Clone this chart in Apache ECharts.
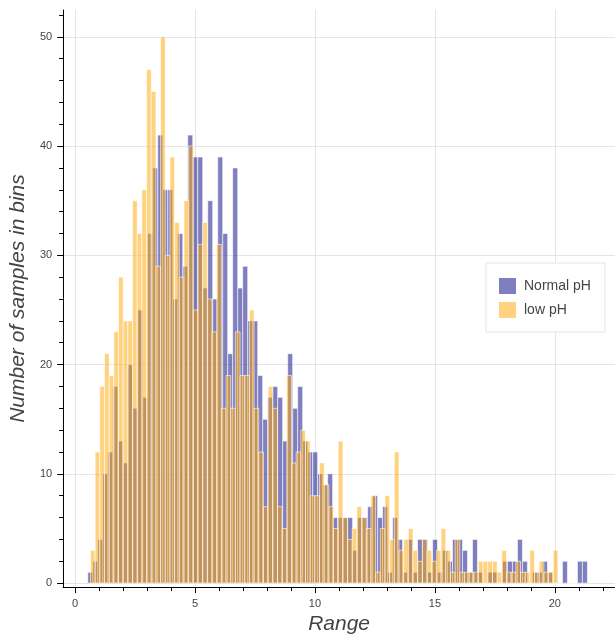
<!DOCTYPE html>
<html><head><meta charset="utf-8">
<script src="https://cdn.jsdelivr.net/npm/echarts@6/dist/echarts.min.js"></script>
<style>html,body{margin:0;padding:0;background:#fff}#c{width:615px;height:640px}</style>
</head><body><div id="c"></div>
<script>
// Histogram counts (100 bins each)
const normalCounts = [1,2,4,10,12,18,13,11,20,16,25,17,32,38,41,36,36,26,32,29,
  41,39,39,27,35,26,39,32,21,38,27,29,24,24,19,15,17,18,17,13,
  21,16,18,13,12,12,10,9,10,6,6,6,6,3,6,6,7,8,6,7,
  1,6,4,1,4,1,4,4,1,4,1,3,2,4,4,3,1,4,1,0,
  1,1,0,2,2,2,4,2,0,1,1,2,1,0,0,2,0,0,2,2];
const lowCounts = [3,12,18,21,19,23,28,24,24,35,32,36,47,45,29,50,30,39,33,28,
  35,40,25,31,33,26,23,31,16,19,16,23,19,19,25,16,12,7,18,16,
  7,5,19,11,12,14,13,8,8,11,9,7,5,13,6,4,5,7,6,5,
  8,1,5,8,4,12,3,4,5,3,2,4,3,2,3,5,3,1,4,1,
  1,1,1,2,2,2,2,1,3,1,1,2,1,1,3,1,2,1,1,3];
// Bin edge ranges (first edge, last edge) of each histogram
const normalRange = [0.53, 21.36];
const lowRange = [0.64, 20.13];
const seriesNames = ['Normal pH', 'low pH'];
const xTicks = [0, 5, 10, 15, 20];
const yTicks = [0, 10, 20, 30, 40, 50];
const xMinorTicks = [0,1,2,3,4,5,6,7,8,9,10,11,12,13,14,15,16,17,18,19,20,21,22];
const yMinorTicks = [0,2,4,6,8,10,12,14,16,18,20,22,24,26,28,30,32,34,36,38,40,42,44,46,48,50,52];

function binsOf(counts, range) {
  const n = counts.length, w = (range[1] - range[0]) / n;
  return counts.map((c, i) => [range[0] + i * w, range[0] + (i + 1) * w, c]);
}
const normalData = binsOf(normalCounts, normalRange);
const lowData = binsOf(lowCounts, lowRange);

const BLUE = 'rgba(0,0,128,0.5)';
const ORANGE = 'rgba(255,165,0,0.5)';

function makeRender(fill) {
  return function (params, api) {
    const a = api.coord([api.value(0), 0]);
    const b = api.coord([api.value(1), api.value(2)]);
    return {
      type: 'rect',
      shape: { x: a[0], y: b[1], width: b[0] - a[0], height: a[1] - b[1] },
      style: { fill: fill, stroke: 'rgba(255,255,255,0.6)', lineWidth: 1 }
    };
  };
}

const FONT = 'Liberation Sans, Arial, Helvetica, sans-serif';
const chart = echarts.init(document.getElementById('c'), null, { renderer: 'canvas' });
chart.setOption({
  animation: false,
  backgroundColor: '#ffffff',
  grid: { left: 62, top: 10, width: 553, height: 582, containLabel: false },
  legend: {
    orient: 'vertical', left: 486, top: 263,
    padding: [15, 14, 14, 13],
    itemWidth: 17, itemHeight: 16, itemGap: 8,
    backgroundColor: '#ffffff', borderColor: '#e5e5e5', borderWidth: 1, borderRadius: 0,
    textStyle: { fontFamily: FONT, fontSize: 14, color: '#444', padding: [0, 0, 0, 3] },
    data: [
      { name: seriesNames[0], icon: 'rect', itemStyle: { color: BLUE, borderWidth: 0 } },
      { name: seriesNames[1], icon: 'rect', itemStyle: { color: ORANGE, borderWidth: 0 } }
    ]
  },
  xAxis: [{
    type: 'value', min: -0.5, max: 22.51,
    name: 'Range', nameLocation: 'middle', nameGap: 26,
    nameTextStyle: { fontFamily: FONT, fontSize: 21, fontStyle: 'italic', color: '#444' },
    axisLine: { show: true, onZero: false, lineStyle: { color: '#000', width: 1 } },
    axisTick: { show: true, length: 6, customValues: xTicks, lineStyle: { color: '#000' } },
    axisLabel: { show: true, customValues: xTicks, margin: 11, fontFamily: FONT, fontSize: 11, color: '#444' },
    splitLine: { show: true, lineStyle: { color: '#e5e5e5', width: 1 } }
  }, {
    type: 'value', min: -0.5, max: 22.51, position: 'bottom', gridIndex: 0,
    axisLine: { show: false, onZero: false },
    axisTick: { show: true, length: 4, customValues: xMinorTicks, lineStyle: { color: '#000' } },
    axisLabel: { show: false },
    splitLine: { show: false }
  }],
  yAxis: [{
    type: 'value', min: -0.363, max: 52.45,
    name: 'Number of samples in bins', nameLocation: 'middle', nameGap: 26,
    nameTextStyle: { fontFamily: FONT, fontSize: 21, fontStyle: 'italic', color: '#444' },
    axisLine: { show: true, onZero: false, lineStyle: { color: '#000', width: 1 } },
    axisTick: { show: true, length: 6, customValues: yTicks, lineStyle: { color: '#000' } },
    axisLabel: { show: true, customValues: yTicks, margin: 11, fontFamily: FONT, fontSize: 11, color: '#444' },
    splitLine: { show: true, lineStyle: { color: '#e5e5e5', width: 1 } }
  }, {
    type: 'value', min: -0.363, max: 52.45, position: 'left', gridIndex: 0,
    axisLine: { show: false, onZero: false },
    axisTick: { show: true, length: 4, customValues: yMinorTicks, lineStyle: { color: '#000' } },
    axisLabel: { show: false },
    splitLine: { show: false }
  }],
  series: [{
    name: seriesNames[0], type: 'custom', xAxisIndex: 0, yAxisIndex: 0,
    itemStyle: { color: BLUE },
    renderItem: makeRender(BLUE),
    encode: { x: [0, 1], y: 2 },
    data: normalData, z: 2
  }, {
    name: seriesNames[1], type: 'custom', xAxisIndex: 0, yAxisIndex: 0,
    itemStyle: { color: ORANGE },
    renderItem: makeRender(ORANGE),
    encode: { x: [0, 1], y: 2 },
    data: lowData, z: 3
  }]
});
</script>
</body></html>
